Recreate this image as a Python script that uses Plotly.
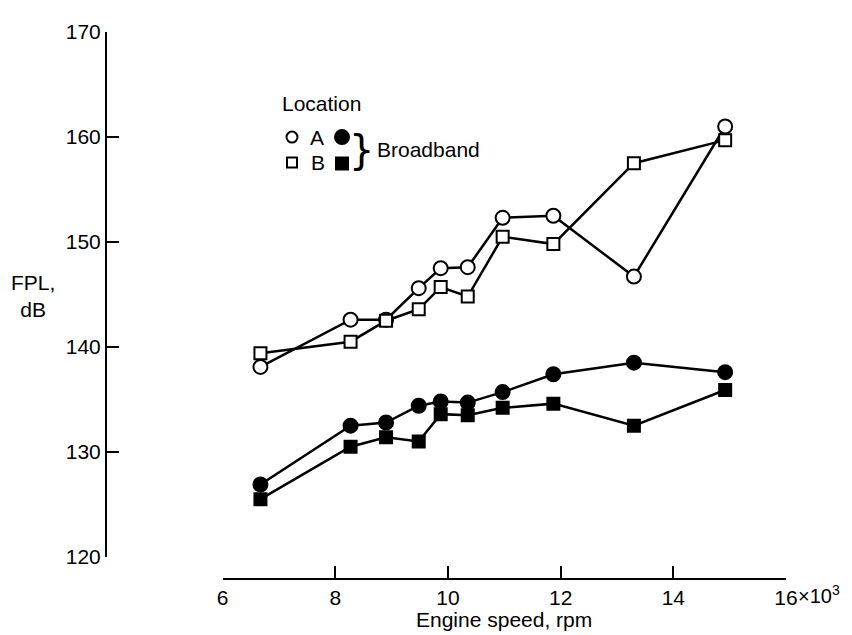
import plotly.graph_objects as go

# Engine speed, thousands of rpm (same test points for all series)
speed = [6.67, 8.27, 8.9, 9.48, 9.87, 10.35, 10.97, 11.87, 13.3, 14.92]

# FPL, dB
loc_a_tonal = [138.1, 142.6, 142.6, 145.6, 147.5, 147.6, 152.3, 152.5, 146.7, 161.0]
loc_b_tonal = [139.4, 140.5, 142.5, 143.6, 145.7, 144.8, 150.5, 149.8, 157.5, 159.7]
loc_a_broad = [126.9, 132.5, 132.8, 134.4, 134.8, 134.7, 135.7, 137.4, 138.5, 137.6]
loc_b_broad = [125.5, 130.5, 131.4, 131.0, 133.6, 133.5, 134.2, 134.6, 132.5, 135.9]

x_ticks = [6, 8, 10, 12, 14, 16]
y_ticks = [120, 130, 140, 150, 160, 170]

FONT = "Liberation Sans, Arial, sans-serif"
OFF = 8  # page body margin
W, H = 852 - OFF, 635 - OFF
ML, MR, MT, MB = 106 - OFF, 66, 22 - OFF, 56
PW, PH = W - ML - MR, H - MT - MB


def px(x):
    return (x - OFF - ML) / PW


def py(y):
    return (H - MB - (y - OFF)) / PH


fig = go.Figure()


def add(y, symbol, fill, size):
    fig.add_trace(go.Scatter(
        x=speed, y=y, mode="lines+markers",
        line=dict(color="black", width=2.5),
        marker=dict(symbol=symbol, size=size,
                    color=fill, line=dict(color="black", width=2)),
        showlegend=False, cliponaxis=False,
    ))


add(loc_a_tonal, "circle", "white", 14)
add(loc_b_tonal, "square", "white", 12)
add(loc_a_broad, "circle", "black", 14)
add(loc_b_broad, "square", "black", 12)

tick_font = dict(family=FONT, size=21, color="black")
xtick_font = dict(family=FONT, size=21, color="black")
X_DOM = [px(222.7), 1]

fig.update_layout(
    width=W, height=H,
    margin=dict(l=ML, r=MR, t=MT, b=MB),
    paper_bgcolor="white", plot_bgcolor="white",
    font=dict(family=FONT, size=21, color="black"),
    xaxis=dict(
        range=[6, 16], domain=X_DOM, anchor="free", position=0,
        tickvals=x_ticks, ticktext=[str(v) for v in x_ticks],
        ticks="inside", ticklen=12, tickwidth=2, tickcolor="black",
        showline=True, linewidth=2, linecolor="black",
        showgrid=False, zeroline=False, tickfont=xtick_font,
    ),
    yaxis=dict(
        range=[120, 170], domain=[py(556.5), 1], anchor="free", position=0,
        tickvals=y_ticks,
        ticks="inside", ticklen=12, tickwidth=2, tickcolor="black",
        showline=True, linewidth=2, linecolor="black",
        showgrid=False, zeroline=False, tickfont=tick_font,
    ),
)

TXT = dict(family=FONT, size=21, color="black")
fig.add_annotation(text="×10<sup>3</sup>", xref="x", yref="paper", x=16, y=py(595),
                   xshift=11, xanchor="left", yanchor="middle", showarrow=False,
                   borderpad=0, font=dict(family=FONT, size=20, color="black"))

ann = [
    dict(text="Engine speed, rpm", x=(X_DOM[0] + X_DOM[1]) / 2, y=py(633), xanchor="center", yanchor="bottom",
         borderpad=0),
    dict(text="FPL,<br>dB", x=px(33), y=py(291), xanchor="center", yanchor="middle", align="center"),
    dict(text="Location", x=px(321), y=py(95), xanchor="center", yanchor="middle"),
    dict(text="A", x=px(317), y=py(129), xanchor="center", yanchor="middle"),
    dict(text="B", x=px(318), y=py(155), xanchor="center", yanchor="middle"),
    dict(text="}", x=px(361), y=py(142), xanchor="center", yanchor="middle",
         font=dict(family="DejaVu Sans", size=40, color="black")),
    dict(text="Broadband", x=px(375), y=py(142), xanchor="left", yanchor="middle"),
]
for a in ann:
    a.setdefault("font", TXT)
    a.update(xref="paper", yref="paper", showarrow=False)
    fig.add_annotation(**a)


def key(shape, cx, cy, fill, r):
    fig.add_shape(type=shape, xref="paper", yref="paper", xsizemode="pixel", ysizemode="pixel",
                  xanchor=px(cx), yanchor=py(cy), x0=-r, x1=r, y0=-r, y1=r,
                  line=dict(color="black", width=2), fillcolor=fill)


key("circle", 292, 129, "white", 5.5)
key("circle", 342, 129, "black", 7)
key("rect", 292, 155, "white", 5)
key("rect", 342, 156, "black", 6)

fig.write_html("out.html")
